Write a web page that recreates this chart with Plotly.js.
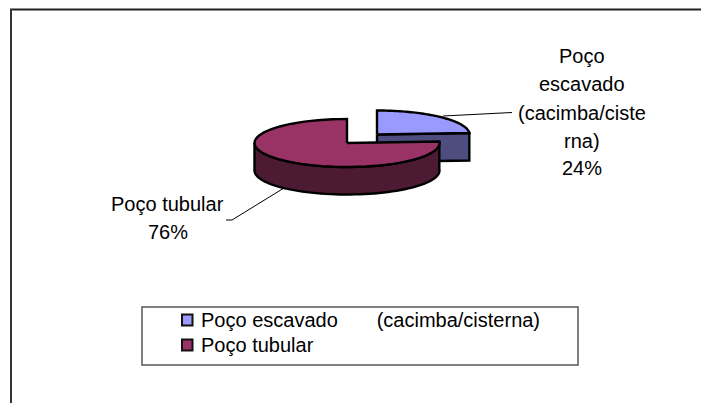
<!DOCTYPE html>
<html>
<head>
<meta charset="utf-8">
<script src="https://cdn.plot.ly/plotly-3.0.1.min.js"></script>
<style>html,body{margin:0;padding:0;background:#fff}#chart{width:701px;height:403px}</style>
</head>
<body>
<div id="chart"></div>
<script>
const categories = ["Poço escavado (cacimba/cisterna)", "Poço tubular"];
const legendLabels = ["Poço escavado\u00A0\u00A0\u00A0\u00A0\u00A0\u00A0\u00A0(cacimba/cisterna)", "Poço tubular"];
const shares = [24, 76];
const sliceLabelLines = [["Poço", "escavado", "(cacimba/ciste", "rna)", "24%"], ["Poço tubular", "76%"]];

const topColors = ["#9999ff", "#993366"];
const wallColors = ["#4d4d80", "#4d1a33"];
const outline = "#000000";
const FONT = "Liberation Sans, Arial, sans-serif";
const FS = 20;

const total = shares.reduce((a, b) => a + b, 0);
const rad = v => v / total * 2 * Math.PI;
const rx = 92.5, ry = 24, depth = 27.5;
const centers = [[377, 134.5], [347, 143]];

function arc(c, a0, a1, dy) {
  const xs = [], ys = [], n = 60;
  for (let i = 0; i <= n; i++) {
    const a = a0 + (a1 - a0) * i / n;
    xs.push(c[0] + rx * Math.sin(a));
    ys.push(c[1] + dy - ry * Math.cos(a));
  }
  return [xs, ys];
}
function poly(xs, ys, fill, name) {
  return {type: "scatter", mode: "lines", x: xs, y: ys, fill: "toself", fillcolor: fill,
    line: {color: outline, width: 2.4, simplify: false}, name: name, hoverinfo: "name", showlegend: false};
}

const split = rad(shares[0]);
const traces = [];

// first slice: cut-face wall, then top
{
  const c = centers[0];
  const e = arc(c, split, split, 0);
  const ex = e[0][0], ey = e[1][0];
  traces.push(poly([c[0], ex, ex, c[0], c[0]], [c[1], ey, ey + depth, c[1] + depth, c[1]], wallColors[0], categories[0]));
  const t = arc(c, 0, split, 0);
  traces.push(poly([c[0]].concat(t[0], c[0]), [c[1]].concat(t[1], c[1]), topColors[0], categories[0]));
}
// second slice: outer wall, then top
{
  const c = centers[1];
  const end = 1.5 * Math.PI;
  const up = arc(c, split, end, 0), low = arc(c, end, split, depth);
  traces.push(poly(up[0].concat(low[0], up[0][0]), up[1].concat(low[1], up[1][0]), wallColors[1], categories[1]));
  const t = arc(c, split, 2 * Math.PI, 0);
  traces.push(poly([c[0]].concat(t[0], c[0]), [c[1]].concat(t[1], c[1]), topColors[1], categories[1]));
}
// leader lines
const leader = (xs, ys) => ({type: "scatter", mode: "lines", x: xs, y: ys,
  line: {color: "#000", width: 1}, hoverinfo: "skip", showlegend: false});
traces.push(leader([443, 512], [116, 112.5]));
traces.push(leader([284, 232, 226], [188, 220, 220]));

const txt = (s, x, y, anchor) => ({text: s, x: x, y: y, xref: "x", yref: "y", showarrow: false,
  xanchor: anchor, yanchor: "middle", borderpad: 0, font: {family: FONT, size: FS, color: "#000"}});

const annotations = [];
const rightY = [56, 84, 113, 141, 168];
sliceLabelLines[0].forEach((s, i) => annotations.push(txt(s, 581.5, rightY[i], "center")));
const leftY = [204, 232];
sliceLabelLines[1].forEach((s, i) => annotations.push(txt(s, 167.5, leftY[i], "center")));
const legendY = [320, 345];
legendLabels.forEach((s, i) => annotations.push(txt(s, 200, legendY[i], "left")));

const shapes = [
  {type: "line", x0: 10, x1: 701, y0: 9.5, y1: 9.5, line: {color: "#222", width: 2}},
  {type: "line", x0: 11, x1: 11, y0: 9, y1: 403, line: {color: "#333", width: 2}},
  {type: "rect", x0: 142, x1: 578, y0: 307, y1: 365, line: {color: "#555", width: 1.5}, fillcolor: "#fff"}
];
legendY.forEach((y, i) => shapes.push({type: "rect", x0: 182, x1: 192.5, y0: y - 5.5, y1: y + 5.5,
  line: {color: "#111", width: 2}, fillcolor: topColors[i]}));

Plotly.newPlot("chart", traces, {
  width: 701, height: 403,
  margin: {l: 0, r: 0, t: 0, b: 0},
  paper_bgcolor: "#fff", plot_bgcolor: "#fff",
  xaxis: {range: [0, 701], visible: false, fixedrange: true},
  yaxis: {range: [403, 0], visible: false, fixedrange: true},
  showlegend: false,
  annotations: annotations,
  shapes: shapes
}, {displayModeBar: false, staticPlot: true});
</script>
</body>
</html>
